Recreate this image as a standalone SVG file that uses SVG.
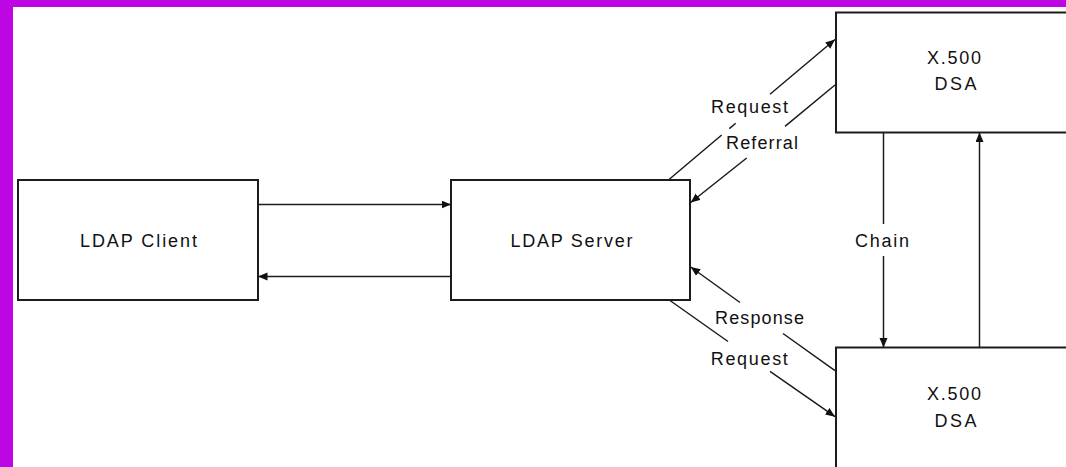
<svg xmlns="http://www.w3.org/2000/svg" width="1066" height="467" viewBox="0 0 1066 467">
<style>
.box{fill:#fff;stroke:#1c1c1c;stroke-width:2}
.ln{fill:none;stroke:#1c1c1c;stroke-width:1.5}
.t{font-family:"Liberation Sans",Arial,sans-serif;font-size:18px;fill:#111;text-anchor:middle}
</style>
<defs>
<marker id="ah" markerUnits="userSpaceOnUse" markerWidth="11" markerHeight="9" refX="9.5" refY="4" orient="auto">
<path d="M0,0 L9.5,4 L0,8 z" fill="#111"/>
</marker>
</defs>
<rect x="0" y="0" width="1066" height="467" fill="#fff"/>
<rect x="0" y="0" width="1066" height="7" fill="#BE06E4"/>
<rect x="0" y="0" width="13" height="467" fill="#BE06E4"/>
<g id="ldap-client">
<rect class="box" x="18" y="180" width="240" height="120"/>
<text class="t" x="138.5" y="246.5" textLength="117" lengthAdjust="spacing">LDAP Client</text>
</g>
<g id="ldap-server">
<rect class="box" x="451" y="180" width="239" height="120"/>
<text class="t" x="571.5" y="246.5" textLength="122" lengthAdjust="spacing">LDAP Server</text>
</g>
<g id="dsa-top">
<rect class="box" x="836" y="12.5" width="240" height="120"/>
<text class="t" x="954" y="63.5" textLength="54" lengthAdjust="spacing">X.500</text>
<text class="t" x="955.5" y="90" textLength="42" lengthAdjust="spacing">DSA</text>
</g>
<g id="dsa-bottom">
<rect class="box" x="836" y="347.5" width="240" height="130"/>
<text class="t" x="954" y="399.5" textLength="54" lengthAdjust="spacing">X.500</text>
<text class="t" x="955.5" y="426.5" textLength="42" lengthAdjust="spacing">DSA</text>
</g>
<g id="connectors">
<path class="ln" d="M258,204.5 L451,204.5" marker-end="url(#ah)"/>
<path class="ln" d="M451,276.5 L258,276.5" marker-end="url(#ah)"/>
<path class="ln" d="M669.3,179.3 L721.7,135 M729.3,128.6 L735.7,123.2 M770,94.2 L835,39.5" marker-end="url(#ah)"/>
<path class="ln" d="M835,85 L785,126.3 M746.7,158 L690.7,202.5" marker-end="url(#ah)"/>
<path class="ln" d="M835,370.7 L783,333.5 M740,302.5 L690.7,267" marker-end="url(#ah)"/>
<path class="ln" d="M670,300.5 L728,341.5 M770,371.3 L835,416.7" marker-end="url(#ah)"/>
<path class="ln" d="M883.5,132.5 L883.5,224 M883.5,256 L883.5,347.5" marker-end="url(#ah)"/>
<path class="ln" d="M979.5,347.5 L979.5,132.5" marker-end="url(#ah)"/>
<text class="t" x="749.5" y="112.7" textLength="77" lengthAdjust="spacing">Request</text>
<text class="t" x="762" y="149.3" textLength="72" lengthAdjust="spacing">Referral</text>
<text class="t" x="759.5" y="324" textLength="89" lengthAdjust="spacing">Response</text>
<text class="t" x="749.3" y="365" textLength="77" lengthAdjust="spacing">Request</text>
<text class="t" x="882" y="246.7" textLength="54" lengthAdjust="spacing">Chain</text>
</g>
</svg>
